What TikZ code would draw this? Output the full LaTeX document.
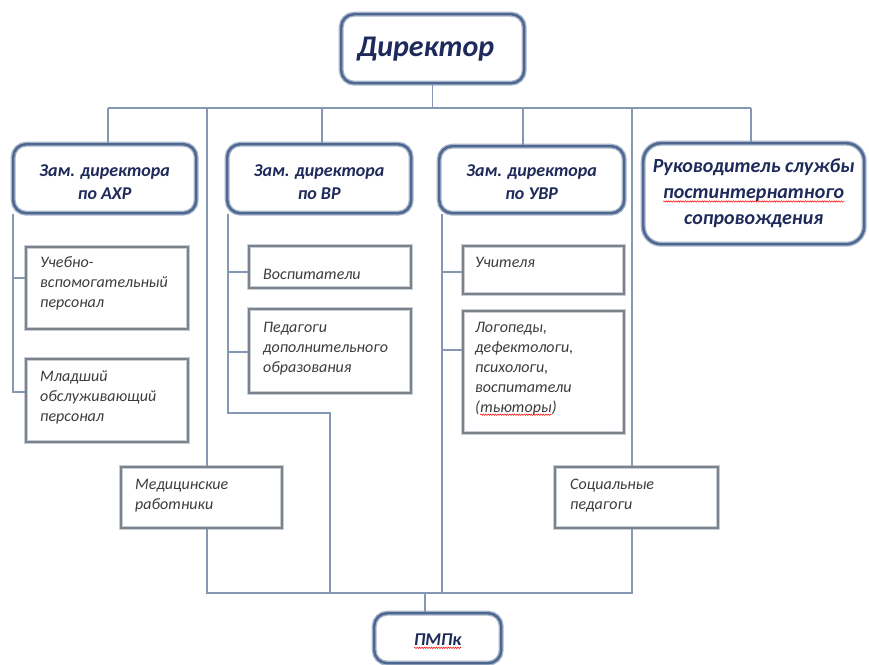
\documentclass[tikz,border=0pt]{standalone}
\usepackage{fontspec}
\setmainfont{Carlito}
\usetikzlibrary{decorations.pathmorphing}
\newcommand\redwave[1]{\tikz[baseline=(wv.base)]{\node[inner sep=0pt, outer sep=0pt] (wv) {#1};
  \draw[red, line width=0.5pt, decorate, decoration={snake, amplitude=0.7pt, segment length=2.4pt}]
  ([yshift=-2.5pt]wv.base west) -- ([yshift=-2.5pt]wv.base east);}}
\definecolor{boxblue}{HTML}{4D6790}
\definecolor{boxhalo}{HTML}{A7B5CA}
\definecolor{subgray}{HTML}{7A828C}
\definecolor{subhalo}{HTML}{C9CED5}
\definecolor{linecol}{HTML}{8497B3}
\definecolor{navy}{HTML}{1E2A5A}
\definecolor{txtgray}{HTML}{3C3C3C}
\tikzset{
  bossbox/.style={draw=boxblue, line width=2.4pt, rounded corners=13pt, inner sep=0pt,
    anchor=north west,
    preaction={fill=white, draw=boxhalo, line width=5pt}},
  bosstext/.style={inner sep=0pt, align=center, text=navy},
  depfont/.style={font=\fontsize{18}{23}\selectfont\bfseries\itshape},
  subbox/.style={draw=subgray, line width=2.4pt, inner sep=0pt, anchor=north west,
    preaction={fill=white, draw=subhalo, line width=4.5pt}},
  subtext/.style={anchor=north west, inner sep=0pt, align=left, text=txtgray,
    font=\fontsize{16}{20}\selectfont\itshape},
  link/.style={draw=linecol, line width=1.3pt}
}
\begin{document}
\begin{tikzpicture}[x=1pt,y=-1pt]
\useasboundingbox[fill=white] (0,0) rectangle (869,664);

% top level boxes
\node[bossbox, minimum width=183pt, minimum height=69pt] (dir) at (340,13) {};
\node[bossbox, minimum width=183pt, minimum height=69pt] (axr) at (12,143) {};
\node[bossbox, minimum width=184pt, minimum height=69pt] (vr) at (226,143) {};
\node[bossbox, minimum width=185pt, minimum height=67pt] (uvr) at (438,145) {};
\node[bossbox, rounded corners=18pt, minimum width=221pt, minimum height=101pt] (ruk) at (642,142) {};
\node[bossbox, minimum width=127pt, minimum height=50pt] (pmpk) at (373,612) {};

\node[bosstext, font=\fontsize{30}{36}\selectfont\bfseries\itshape] (dirt) at ([xshift=-7pt]dir.center) {Директор};
\node[bosstext, depfont] (axrt) at ([yshift=-3pt]axr.center) {Зам. директора\\по АХР};
\node[bosstext, depfont] (vrt) at ([yshift=-3pt]vr.center) {Зам. директора\\по ВР};
\node[bosstext, depfont] (uvrt) at ([yshift=-2pt]uvr.center) {Зам. директора\\по УВР};
\node[bosstext, font=\fontsize{20}{26}\selectfont\bfseries\itshape] (rukt) at (ruk.center)
      {Руководитель службы\\\redwave{постинтернатного}\\сопровождения};
\node[bosstext, depfont] (pmpkt) at ([yshift=-3pt]pmpk.center) {\redwave{ПМПк}};

% sub boxes
\node[subbox, minimum width=162pt, minimum height=82pt] (s1) at (25,246) {};
\node[subbox, minimum width=162pt, minimum height=83pt] (s2) at (25,358) {};
\node[subbox, minimum width=162pt, minimum height=42pt] (s3) at (248,245) {};
\node[subbox, minimum width=162pt, minimum height=84pt] (s4) at (248,308) {};
\node[subbox, minimum width=161pt, minimum height=48pt] (s5) at (462,245) {};
\node[subbox, minimum width=161pt, minimum height=122pt] (s6) at (462,310) {};
\node[subbox, minimum width=161pt, minimum height=61pt] (med) at (120,466) {};
\node[subbox, minimum width=163pt, minimum height=61pt] (soc) at (554,466) {};

\node[subtext] (t1) at (40,253) {\strut Учебно-\\вспомогательный\\персонал};
\node[subtext] (t2) at (40,367) {\strut Младший\\обслуживающий\\персонал};
\node[subtext] (t3) at (263,265) {\strut Воспитатели};
\node[subtext] (t4) at (263,318) {\strut Педагоги\\дополнительного\\образования};
\node[subtext] (t5) at (475,253) {\strut Учителя};
\node[subtext] (t6) at (475,318) {\strut Логопеды,\\дефектологи,\\психологи,\\воспитатели\\(\redwave{тьюторы})};
\node[subtext] (t7) at (135,475) {\strut Медицинские\\работники};
\node[subtext] (t8) at (570,475) {\strut Социальные\\педагоги};

% connectors
\coordinate (bl) at (108,108);
\coordinate (br) at (751,108);
\coordinate (d1) at (207,108);
\coordinate (d2) at (322,108);
\coordinate (d3) at (523,108);
\coordinate (d4) at (632,108);
\coordinate (bb) at (207,593);
\coordinate (be) at (632,593);
\draw[link] (bl) -- (br);
\draw[link] (dir.south) -- (dir.south |- bl);
\draw[link] (bl) -- (bl |- axr.north);
\draw[link] (d1) -- (d1 |- med.north);
\draw[link] (d2) -- (d2 |- vr.north);
\draw[link] (d3) -- (d3 |- uvr.north);
\draw[link] (d4) -- (d4 |- soc.north);
\draw[link] (br) -- (br |- ruk.north);

% AXR bracket
\coordinate (a1) at (13,278);
\coordinate (a2) at (13,392);
\draw[link] (axr.south -| a1) -- (a2) -- (a2 -| s2.west);
\draw[link] (a1) -- (a1 -| s1.west);

% VR bracket
\coordinate (v1) at (228,272);
\coordinate (v2) at (228,352);
\coordinate (v3) at (228,413);
\coordinate (v4) at (330,413);
\draw[link] (vr.south -| v1) -- (v3) -- (v4) -- (v4 |- bb);
\draw[link] (v1) -- (v1 -| s3.west);
\draw[link] (v2) -- (v2 -| s4.west);

% UVR bracket
\coordinate (u1) at (442,272);
\coordinate (u2) at (442,350);
\draw[link] (uvr.south -| u1) -- (u1 |- bb);
\draw[link] (u1) -- (u1 -| s5.west);
\draw[link] (u2) -- (u2 -| s6.west);

% bottom bus
\draw[link] (med.south -| bb) -- (bb) -- (be) -- (soc.south -| be);
\coordinate (p0) at (425,593);
\draw[link] (p0) -- (p0 |- pmpk.north);
\end{tikzpicture}
\end{document}
